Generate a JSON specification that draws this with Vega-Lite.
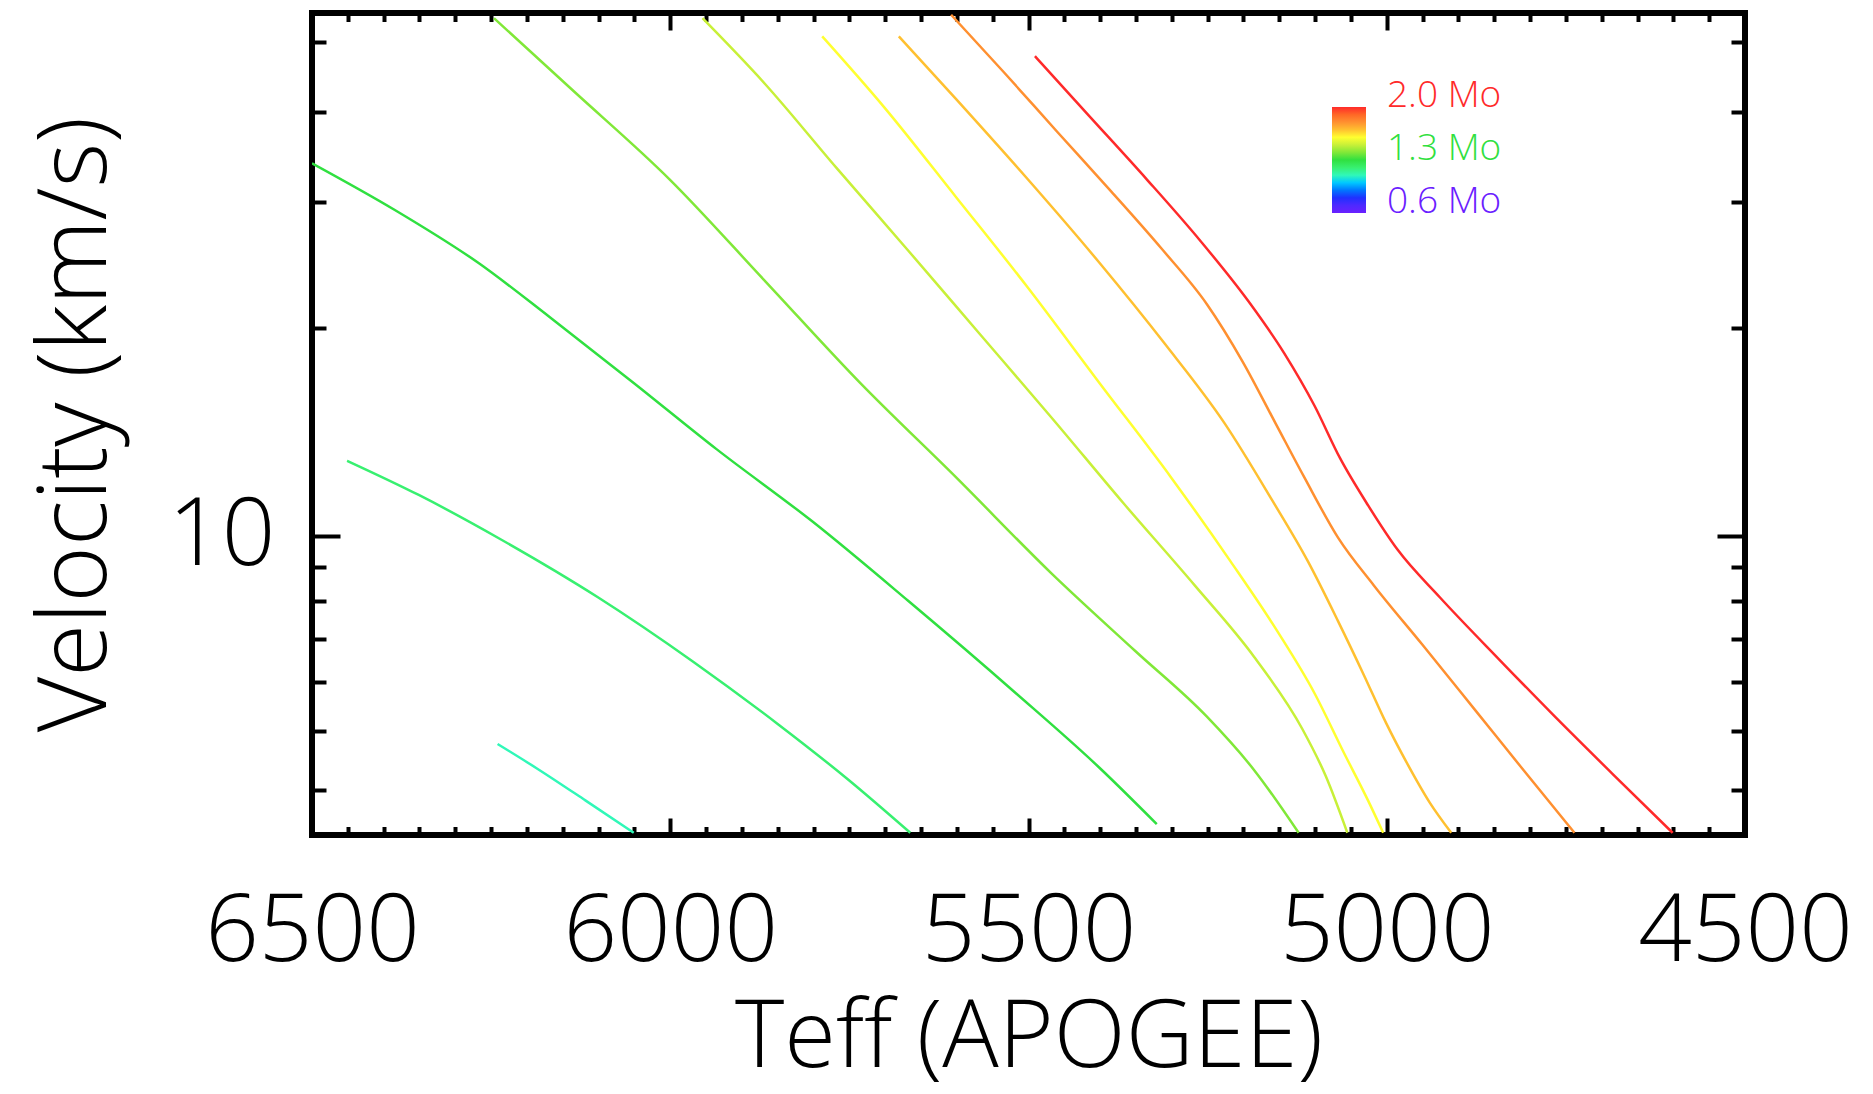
{
  "$schema": "https://vega.github.io/schema/vega-lite/v6.json",
  "width": 1433,
  "height": 822,
  "autosize": {"type": "none"},
  "padding": {"left": 312, "top": 13, "right": 128, "bottom": 259},
  "background": "white",
  "config": {
    "view": {"stroke": "black", "strokeWidth": 6},
    "font": "Open Sans"
  },
  "data": {
    "values": [
      {"mass": 1.1, "teff": 6241, "vel": 4.77},
      {"mass": 1.1, "teff": 6185, "vel": 4.34},
      {"mass": 1.1, "teff": 6118, "vel": 3.84},
      {"mass": 1.1, "teff": 6051, "vel": 3.38},

      {"mass": 1.2, "teff": 6451, "vel": 12.9},
      {"mass": 1.2, "teff": 6351, "vel": 11.5},
      {"mass": 1.2, "teff": 6235, "vel": 9.87},
      {"mass": 1.2, "teff": 6101, "vel": 8.10},
      {"mass": 1.2, "teff": 5968, "vel": 6.45},
      {"mass": 1.2, "teff": 5851, "vel": 5.15},
      {"mass": 1.2, "teff": 5751, "vel": 4.16},
      {"mass": 1.2, "teff": 5665, "vel": 3.38},

      {"mass": 1.3, "teff": 6500, "vel": 34.0},
      {"mass": 1.3, "teff": 6385, "vel": 29.3},
      {"mass": 1.3, "teff": 6268, "vel": 24.7},
      {"mass": 1.3, "teff": 6168, "vel": 20.7},
      {"mass": 1.3, "teff": 6051, "vel": 16.7},
      {"mass": 1.3, "teff": 5935, "vel": 13.4},
      {"mass": 1.3, "teff": 5801, "vel": 10.5},
      {"mass": 1.3, "teff": 5668, "vel": 8.00},
      {"mass": 1.3, "teff": 5518, "vel": 5.76},
      {"mass": 1.3, "teff": 5401, "vel": 4.36},
      {"mass": 1.3, "teff": 5321, "vel": 3.50},

      {"mass": 1.4, "teff": 6246, "vel": 53.9},
      {"mass": 1.4, "teff": 6135, "vel": 42.8},
      {"mass": 1.4, "teff": 6001, "vel": 32.3},
      {"mass": 1.4, "teff": 5868, "vel": 23.3},
      {"mass": 1.4, "teff": 5735, "vel": 16.7},
      {"mass": 1.4, "teff": 5601, "vel": 12.2},
      {"mass": 1.4, "teff": 5468, "vel": 8.80},
      {"mass": 1.4, "teff": 5351, "vel": 6.70},
      {"mass": 1.4, "teff": 5251, "vel": 5.28},
      {"mass": 1.4, "teff": 5185, "vel": 4.32},
      {"mass": 1.4, "teff": 5123, "vel": 3.38},

      {"mass": 1.5, "teff": 5955, "vel": 53.9},
      {"mass": 1.5, "teff": 5868, "vel": 43.8},
      {"mass": 1.5, "teff": 5768, "vel": 33.5},
      {"mass": 1.5, "teff": 5668, "vel": 25.7},
      {"mass": 1.5, "teff": 5568, "vel": 19.6},
      {"mass": 1.5, "teff": 5468, "vel": 14.9},
      {"mass": 1.5, "teff": 5368, "vel": 11.2},
      {"mass": 1.5, "teff": 5268, "vel": 8.44},
      {"mass": 1.5, "teff": 5185, "vel": 6.56},
      {"mass": 1.5, "teff": 5118, "vel": 5.05},
      {"mass": 1.5, "teff": 5085, "vel": 4.22},
      {"mass": 1.5, "teff": 5055, "vel": 3.38},

      {"mass": 1.6, "teff": 5788, "vel": 50.9},
      {"mass": 1.6, "teff": 5701, "vel": 40.6},
      {"mass": 1.6, "teff": 5601, "vel": 30.5},
      {"mass": 1.6, "teff": 5501, "vel": 22.8},
      {"mass": 1.6, "teff": 5401, "vel": 16.7},
      {"mass": 1.6, "teff": 5301, "vel": 12.2},
      {"mass": 1.6, "teff": 5218, "vel": 9.17},
      {"mass": 1.6, "teff": 5151, "vel": 7.14},
      {"mass": 1.6, "teff": 5101, "vel": 5.76},
      {"mass": 1.6, "teff": 5060, "vel": 4.62},
      {"mass": 1.6, "teff": 5026, "vel": 3.84},
      {"mass": 1.6, "teff": 5005, "vel": 3.38},

      {"mass": 1.7, "teff": 5681, "vel": 50.9},
      {"mass": 1.7, "teff": 5601, "vel": 41.7},
      {"mass": 1.7, "teff": 5501, "vel": 32.3},
      {"mass": 1.7, "teff": 5401, "vel": 24.7},
      {"mass": 1.7, "teff": 5310, "vel": 19.0},
      {"mass": 1.7, "teff": 5226, "vel": 14.6},
      {"mass": 1.7, "teff": 5160, "vel": 11.3},
      {"mass": 1.7, "teff": 5110, "vel": 9.17},
      {"mass": 1.7, "teff": 5068, "vel": 7.45},
      {"mass": 1.7, "teff": 5032, "vel": 6.15},
      {"mass": 1.7, "teff": 5001, "vel": 5.16},
      {"mass": 1.7, "teff": 4971, "vel": 4.42},
      {"mass": 1.7, "teff": 4940, "vel": 3.81},
      {"mass": 1.7, "teff": 4910, "vel": 3.38},

      {"mass": 1.8, "teff": 5608, "vel": 54.5},
      {"mass": 1.8, "teff": 5535, "vel": 45.5},
      {"mass": 1.8, "teff": 5460, "vel": 37.6},
      {"mass": 1.8, "teff": 5385, "vel": 31.1},
      {"mass": 1.8, "teff": 5315, "vel": 25.9},
      {"mass": 1.8, "teff": 5251, "vel": 21.6},
      {"mass": 1.8, "teff": 5201, "vel": 17.9},
      {"mass": 1.8, "teff": 5155, "vel": 14.6},
      {"mass": 1.8, "teff": 5115, "vel": 12.2},
      {"mass": 1.8, "teff": 5068, "vel": 9.95},
      {"mass": 1.8, "teff": 5018, "vel": 8.44},
      {"mass": 1.8, "teff": 4951, "vel": 6.87},
      {"mass": 1.8, "teff": 4876, "vel": 5.40},
      {"mass": 1.8, "teff": 4805, "vel": 4.26},
      {"mass": 1.8, "teff": 4738, "vel": 3.38},

      {"mass": 2.0, "teff": 5491, "vel": 47.8},
      {"mass": 2.0, "teff": 5418, "vel": 39.8},
      {"mass": 2.0, "teff": 5335, "vel": 32.3},
      {"mass": 2.0, "teff": 5260, "vel": 26.5},
      {"mass": 2.0, "teff": 5193, "vel": 21.8},
      {"mass": 2.0, "teff": 5143, "vel": 18.4},
      {"mass": 2.0, "teff": 5101, "vel": 15.5},
      {"mass": 2.0, "teff": 5065, "vel": 13.0},
      {"mass": 2.0, "teff": 5026, "vel": 11.1},
      {"mass": 2.0, "teff": 4985, "vel": 9.55},
      {"mass": 2.0, "teff": 4926, "vel": 8.10},
      {"mass": 2.0, "teff": 4843, "vel": 6.50},
      {"mass": 2.0, "teff": 4768, "vel": 5.32},
      {"mass": 2.0, "teff": 4685, "vel": 4.26},
      {"mass": 2.0, "teff": 4601, "vel": 3.38}
    ]
  },
  "layer": [
    {
      "mark": {"type": "line", "clip": true, "strokeWidth": 2.5, "interpolate": "monotone"},
      "encoding": {
        "x": {
          "field": "teff",
          "type": "quantitative",
          "scale": {"domain": [4500, 6500], "reverse": true, "nice": false, "zero": false},
          "axis": {
            "orient": "bottom",
            "values": [4500, 4550, 4600, 4650, 4700, 4750, 4800, 4850, 4900, 4950, 5000, 5050, 5100, 5150, 5200, 5250, 5300, 5350, 5400, 5450, 5500, 5550, 5600, 5650, 5700, 5750, 5800, 5850, 5900, 5950, 6000, 6050, 6100, 6150, 6200, 6250, 6300, 6350, 6400, 6450, 6500],
            "format": "d",
            "labelExpr": "datum.value % 500 === 0 ? datum.label : ''",
            "grid": false,
            "domain": false,
            "tickColor": "black",
            "tickWidth": 4,
            "tickSize": {"condition": {"test": "datum.value % 500 === 0", "value": -17}, "value": -8.5},
            "labelFont": "Open Sans",
            "labelFontSize": 94,
            "labelFontWeight": 300,
            "labelColor": "black",
            "labelBaseline": "alphabetic",
            "labelPadding": 142,
            "labelLimit": 0,
            "labelFlush": false,
            "labelOverlap": false,
            "labelBound": false,
            "title": "Teff (APOGEE)",
            "titleFont": "Open Sans",
            "titleFontSize": 94,
            "titleFontWeight": 300,
            "titleColor": "black",
            "titleBaseline": "alphabetic",
            "titleY": 231
          }
        },
        "y": {
          "field": "vel",
          "type": "quantitative",
          "scale": {"type": "symlog", "constant": 1, "domain": [3.35, 54.8], "nice": false, "zero": false},
          "axis": {
            "orient": "left",
            "values": [4, 5, 6, 7, 8, 9, 10, 20, 30, 40, 50],
            "labelExpr": "datum.value === 10 ? '10' : ''",
            "grid": false,
            "domain": false,
            "tickColor": "black",
            "tickWidth": 4,
            "tickSize": {"condition": {"test": "datum.value === 10", "value": -28}, "value": -14},
            "labelFont": "Open Sans",
            "labelFontSize": 94,
            "labelFontWeight": 300,
            "labelColor": "black",
            "labelPadding": 65,
            "labelLimit": 0,
            "labelFlush": false,
            "labelOverlap": false,
            "labelBound": false,
            "title": "Velocity (km/s)",
            "titleFont": "Open Sans",
            "titleFontSize": 96,
            "titleFontWeight": 300,
            "titleColor": "black",
            "titleBaseline": "alphabetic",
            "titleX": -207
          }
        },
        "color": {
          "field": "mass",
          "type": "quantitative",
          "scale": {
            "domain": [0.6, 0.8, 0.95, 1.05, 1.1, 1.2, 1.3, 1.4, 1.5, 1.6, 1.7, 1.8, 2.0],
            "range": ["#6a20ff", "#2030ff", "#2090ff", "#20f8ff", "#30f8b8", "#38f070", "#30e040", "#80e838", "#c8f038", "#ffff30", "#ffc030", "#ff9030", "#ff2a2a"]
          },
          "legend": {
            "orient": "none",
            "legendX": 1020,
            "legendY": 94,
            "direction": "vertical",
            "title": null,
            "padding": 0,
            "gradientLength": 106,
            "gradientThickness": 34,
            "gradientStrokeWidth": 0,
            "values": [0.6, 1.3, 2.0],
            "labelExpr": "format(datum.value, '.1f') + ' Mo'",
            "labelFont": "Open Sans",
            "labelFontSize": 37,
            "labelFontWeight": 300,
            "labelOffset": 21,
            "labelFlush": false,
            "labelOverlap": false,
            "labelColor": {"expr": "scale('color', datum.value)"},
            "encoding": {"labels": {"baseline": {"value": "alphabetic"}}}
          }
        },
        "detail": {"field": "mass", "type": "quantitative"}
      }
    },
    {
      "mark": {"type": "line", "clip": true, "strokeOpacity": 0},
      "encoding": {
        "x": {
          "field": "teff",
          "type": "quantitative",
          "scale": {"domain": [4500, 6500], "reverse": true, "nice": false, "zero": false},
          "axis": {
            "orient": "top",
            "values": [4500, 4550, 4600, 4650, 4700, 4750, 4800, 4850, 4900, 4950, 5000, 5050, 5100, 5150, 5200, 5250, 5300, 5350, 5400, 5450, 5500, 5550, 5600, 5650, 5700, 5750, 5800, 5850, 5900, 5950, 6000, 6050, 6100, 6150, 6200, 6250, 6300, 6350, 6400, 6450, 6500],
            "labels": false,
            "title": null,
            "grid": false,
            "domain": false,
            "tickColor": "black",
            "tickWidth": 4,
            "tickSize": {"condition": {"test": "datum.value % 500 === 0", "value": -17}, "value": -8.5}
          }
        },
        "y": {
          "field": "vel",
          "type": "quantitative",
          "scale": {"type": "symlog", "constant": 1, "domain": [3.35, 54.8], "nice": false, "zero": false},
          "axis": {
            "orient": "right",
            "values": [4, 5, 6, 7, 8, 9, 10, 20, 30, 40, 50],
            "labels": false,
            "title": null,
            "grid": false,
            "domain": false,
            "tickColor": "black",
            "tickWidth": 4,
            "tickSize": {"condition": {"test": "datum.value === 10", "value": -28}, "value": -14}
          }
        },
        "detail": {"field": "mass", "type": "quantitative"}
      }
    }
  ],
  "resolve": {"axis": {"x": "independent", "y": "independent"}}
}
